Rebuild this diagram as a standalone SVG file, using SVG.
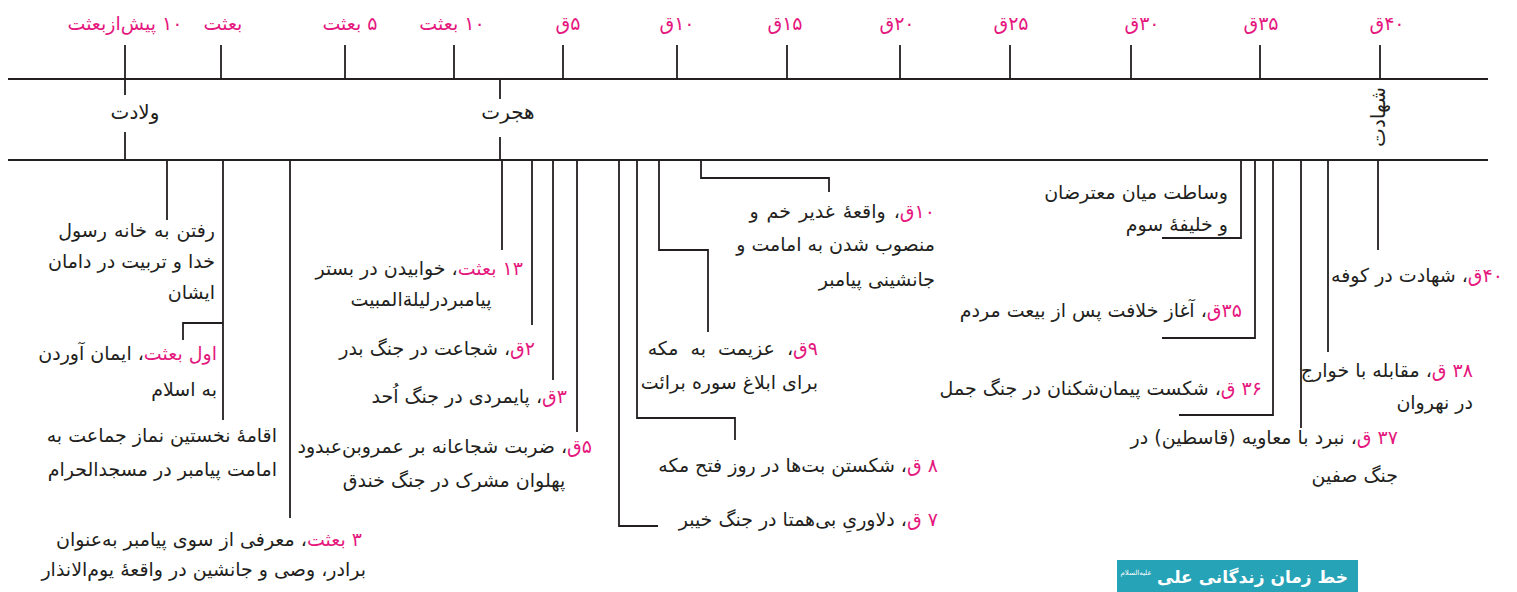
<svg xmlns="http://www.w3.org/2000/svg" width="1517" height="592" viewBox="0 0 1517 592">
<style>
.bg{fill:#ffffff}
.ax{stroke:#231f20;stroke-width:2;fill:none}
.cn{stroke:#231f20;stroke-width:1.8;fill:none}
.lbl{font-family:"DejaVu Sans",sans-serif;font-size:19px;fill:#e5177e;text-anchor:middle;direction:rtl}
.mid{font-family:"DejaVu Sans",sans-serif;font-size:20px;fill:#231f20;text-anchor:middle;direction:rtl}
.t{font-family:"DejaVu Sans",sans-serif;font-size:19px;fill:#231f20;direction:rtl;text-anchor:start}
.tc{font-family:"DejaVu Sans",sans-serif;font-size:19px;fill:#231f20;direction:rtl;text-anchor:middle}
.p{fill:#e5177e}
.ttl{font-family:"DejaVu Sans",sans-serif;font-size:17px;font-weight:bold;fill:#ffffff;direction:rtl;text-anchor:start}
.hon{font-family:"DejaVu Sans",sans-serif;font-size:7px;fill:#ffffff;direction:rtl;text-anchor:middle}
</style>
<rect class="bg" x="0" y="0" width="1517" height="592"/>

<g id="connectors">
<path class="ax" d="M8 79H1488M8 160H1488"/>
<path class="cn" d="M125 45V79M221 45V79M345 45V79M454 45V79M563 45V79M677 45V79M787 45V79M900 45V79M1010 45V79M1131 45V79M1260 45V79M1380 45V79"/>
<path class="cn" d="M125 79V95M125 132V160M500 79V99M500 137V160"/>
<path class="cn" d="M167 160V220M223 160V420M223 323H183V340M290 160V518"/>
<path class="cn" d="M502 160V250M532 160V325M553 160V380M577 160V432"/>
<path class="cn" d="M619 160V526H658M637 160V418H735V440M659 160V250H708V332M701 160V178H829V192"/>
<path class="cn" d="M1241 160V238H1162M1255 160V338H1162M1273 160V415H1179M1301 160V428M1328 160V352M1378 160V250"/>
</g>

<g id="scale">
<text class="lbl" x="125" y="30">۱۰ پیش‌ازبعثت</text>
<text class="lbl" x="223" y="30">بعثت</text>
<text class="lbl" x="350" y="30">۵ بعثت</text>
<text class="lbl" x="452" y="30">۱۰ بعثت</text>
<text class="lbl" x="568" y="30">۵ق</text>
<text class="lbl" x="677" y="30">۱۰ق</text>
<text class="lbl" x="785" y="30">۱۵ق</text>
<text class="lbl" x="897" y="30">۲۰ق</text>
<text class="lbl" x="1011" y="30">۲۵ق</text>
<text class="lbl" x="1142" y="30">۳۰ق</text>
<text class="lbl" x="1261" y="30">۳۵ق</text>
<text class="lbl" x="1387" y="30">۴۰ق</text>
</g>

<g id="n-veladat"><text class="mid" x="135" y="119">ولادت</text></g>
<g id="n-hejrat"><text class="mid" x="508" y="119">هجرت</text></g>
<g id="n-shahadat"><text class="mid" transform="translate(1385 117) rotate(-90)">شهادت</text></g>

<g id="e-khane">
<text class="t" x="215" y="237" style="word-spacing:1px">رفتن به خانه رسول</text>
<text class="t" x="215" y="268">خدا و تربیت در دامان</text>
<text class="t" x="215" y="299">ایشان</text>
</g>
<g id="e-iman">
<text class="t" x="217" y="360"><tspan class="p">اول بعثت</tspan>، ایمان آوردن</text>
<text class="t" x="217" y="396">به اسلام</text>
</g>
<g id="e-namaz">
<text class="t" x="277" y="442">اقامهٔ نخستین نماز جماعت به</text>
<text class="t" x="277" y="476">امامت پیامبر  در مسجدالحرام</text>
</g>
<g id="e-enzar">
<text class="t" x="362" y="546"><tspan class="p">۳ بعثت</tspan>، معرفی از سوی پیامبر به‌عنوان</text>
<text class="t" x="366" y="576">برادر، وصی و جانشین در واقعهٔ یوم‌الانذار</text>
</g>
<g id="e-mabit">
<text class="t" x="523" y="275"><tspan class="p">۱۳ بعثت</tspan>، خوابیدن در بستر</text>
<text class="tc" x="421" y="306">پیامبردرلیلةالمبیت</text>
</g>
<g id="e-badr"><text class="t" x="535" y="355"><tspan class="p">۲ق</tspan>، شجاعت در جنگ بدر</text></g>
<g id="e-ohod"><text class="t" x="567" y="403"><tspan class="p">۳ق</tspan>، پایمردی در جنگ اُحد</text></g>
<g id="e-khandagh">
<text class="t" x="592" y="453"><tspan class="p">۵ق</tspan>، ضربت شجاعانه بر عمروبن‌عبدود</text>
<text class="tc" x="454" y="487">پهلوان مشرک در جنگ خندق</text>
</g>
<g id="e-baraat">
<text class="t" x="818" y="355" style="word-spacing:6px"><tspan class="p">۹ق</tspan>، عزیمت به مکه</text>
<text class="t" x="818" y="389">برای ابلاغ سوره برائت</text>
</g>
<g id="e-fath"><text class="t" x="938" y="472"><tspan class="p">۸ ق</tspan>، شکستن بت‌ها در روز فتح مکه</text></g>
<g id="e-kheybar"><text class="t" x="938" y="526"><tspan class="p">۷ ق</tspan>، دلاوریِ بی‌همتا در جنگ خیبر</text></g>
<g id="e-ghadir">
<text class="t" x="935" y="218" style="word-spacing:2px"><tspan class="p">۱۰ق</tspan>، واقعهٔ غدیر خم و</text>
<text class="t" x="935" y="251">منصوب شدن به امامت و</text>
<text class="t" x="935" y="286">جانشینی پیامبر</text>
</g>
<g id="e-vesatat">
<text class="t" x="1228" y="199">وساطت میان معترضان</text>
<text class="t" x="1228" y="231">و خلیفهٔ سوم</text>
</g>
<g id="e-khelafat"><text class="t" x="1242" y="317"><tspan class="p">۳۵ق</tspan>، آغاز خلافت پس از بیعت مردم</text></g>
<g id="e-jamal"><text class="t" x="1262" y="395"><tspan class="p">۳۶ ق</tspan>، شکست پیمان‌شکنان در جنگ جمل</text></g>
<g id="e-seffin">
<text class="t" x="1398" y="444"><tspan class="p">۳۷ ق</tspan>، نبرد با معاویه (قاسطین) در</text>
<text class="t" x="1398" y="482">جنگ صفین</text>
</g>
<g id="e-nahrevan">
<text class="t" x="1473" y="377"><tspan class="p">۳۸ ق</tspan>، مقابله با خوارج</text>
<text class="t" x="1473" y="409">در نهروان</text>
</g>
<g id="e-kufe"><text class="t" x="1503" y="282"><tspan class="p">۴۰ق</tspan>، شهادت در کوفه</text></g>

<g id="title">
<rect x="1117" y="560" width="241" height="40" fill="#26a3b6"/>
<text class="ttl" x="1348" y="583">خط زمان زندگانی علی</text>
<text class="hon" x="1136" y="575">علیه‌السلام</text>
</g>
</svg>
